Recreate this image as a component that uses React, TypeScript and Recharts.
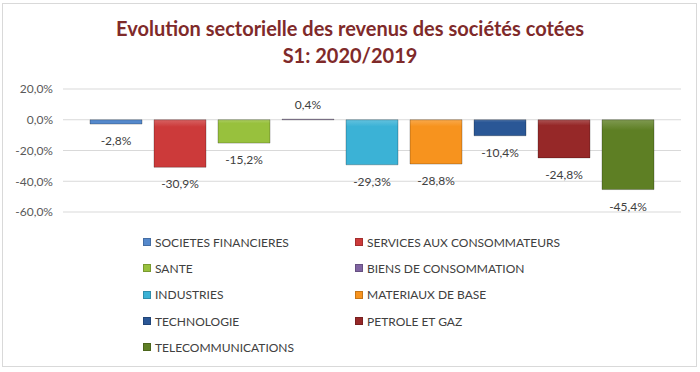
import { BarChart, Bar, XAxis, YAxis, CartesianGrid, LabelList } from 'recharts';

const sectors = [
  'SOCIETES FINANCIERES',
  'SERVICES AUX CONSOMMATEURS',
  'SANTE',
  'BIENS DE CONSOMMATION',
  'INDUSTRIES',
  'MATERIAUX DE BASE',
  'TECHNOLOGIE',
  'PETROLE ET GAZ',
  'TELECOMMUNICATIONS',
];

const values = [-2.8, -30.9, -15.2, 0.4, -29.3, -28.8, -10.4, -24.8, -45.4];

const colors = [
  '#5589CC',
  '#CC3A3A',
  '#98C13D',
  '#8064A2',
  '#3BB2D6',
  '#F7931E',
  '#2A5796',
  '#962828',
  '#5E7F24',
];

const yTicks = [-60, -40, -20, 0, 20];

const row: Record<string, number | string> = { name: 'S1' };
sectors.forEach((s, i) => {
  row[s] = values[i];
});
const data = [row];

const fmt = (v: number) => `${v.toFixed(1).replace('.', ',')}%`;

const FONT = 'Lato, "Open Sans", sans-serif';

function BarLabel(props: any) {
  const { x, y, width, height, value } = props;
  const top = Math.min(y, y + height);
  const bottom = Math.max(y, y + height);
  const cx = x + width / 2;
  const ty = value < 0 ? bottom + 21 : top - 10;
  return (
    <text x={cx} y={ty} textAnchor="middle" fontSize={12} fill="#404040" fontFamily={FONT}>
      {fmt(value)}
    </text>
  );
}

export default function App() {
  return (
    <div style={{ position: 'relative', width: 700, height: 372, background: '#fff', fontFamily: FONT }}>
      <style>{'body{margin:0}'}</style>
      <div
        style={{
          position: 'absolute',
          left: 2,
          top: 3,
          width: 695,
          height: 364,
          border: '1px solid #d9d9d9',
          boxSizing: 'border-box',
        }}
      />
      <div
        style={{
          position: 'absolute',
          top: 15,
          left: 0,
          width: 700,
          textAlign: 'center',
          color: '#7F2A2A',
          fontWeight: 700,
          fontSize: 20,
          lineHeight: '27px',
        }}
      >
        <div>Evolution sectorielle des revenus des sociétés cotées</div>
        <div>S1: 2020/2019</div>
      </div>
      <div style={{ position: 'absolute', left: 0, top: 0 }}>
        <BarChart
          width={700}
          height={230}
          data={data}
          margin={{ top: 89, right: 19, bottom: 18, left: 0 }}
          barSize={52}
          barGap={12}
        >
          <defs>
            {colors.map((c, i) => (
              <linearGradient key={i} id={`g${i}`} x1="0" y1="0" x2="0" y2="1">
                <stop offset="0%" stopColor={c} stopOpacity={0.8} />
                <stop offset="15%" stopColor={c} />
                <stop offset="100%" stopColor={c} />
              </linearGradient>
            ))}
          </defs>
          <CartesianGrid vertical={false} stroke="#d9d9d9" />
          <XAxis dataKey="name" hide />
          <YAxis
            width={63}
            domain={[-60, 20]}
            ticks={yTicks}
            tickFormatter={fmt}
            axisLine={false}
            tickLine={false}
            tickSize={0}
            tickMargin={10}
            tick={{ fontSize: 12, fill: '#595959', fontFamily: FONT }}
          />
          {sectors.map((s, i) => (
            <Bar
              key={s}
              dataKey={s}
              fill={`url(#g${i})`}
              stroke="rgba(0,0,0,0.25)"
              strokeWidth={1}
              isAnimationActive={false}
            >
              <LabelList dataKey={s} content={BarLabel} />
            </Bar>
          ))}
        </BarChart>
      </div>
      <div
        style={{
          position: 'absolute',
          left: 143,
          top: 233,
          display: 'grid',
          gridTemplateColumns: '212px 250px',
          rowGap: 8,
          fontSize: 12,
          color: '#404040',
        }}
      >
        {sectors.map((s, i) => (
          <div key={s} style={{ display: 'flex', alignItems: 'center', height: 18.3 }}>
            <span
              style={{
                display: 'inline-block',
                width: 8,
                height: 8,
                background: colors[i],
                marginRight: 4,
                boxShadow: 'inset 0 0 0 1px rgba(0,0,0,0.2)',
              }}
            />
            {s}
          </div>
        ))}
      </div>
    </div>
  );
}
